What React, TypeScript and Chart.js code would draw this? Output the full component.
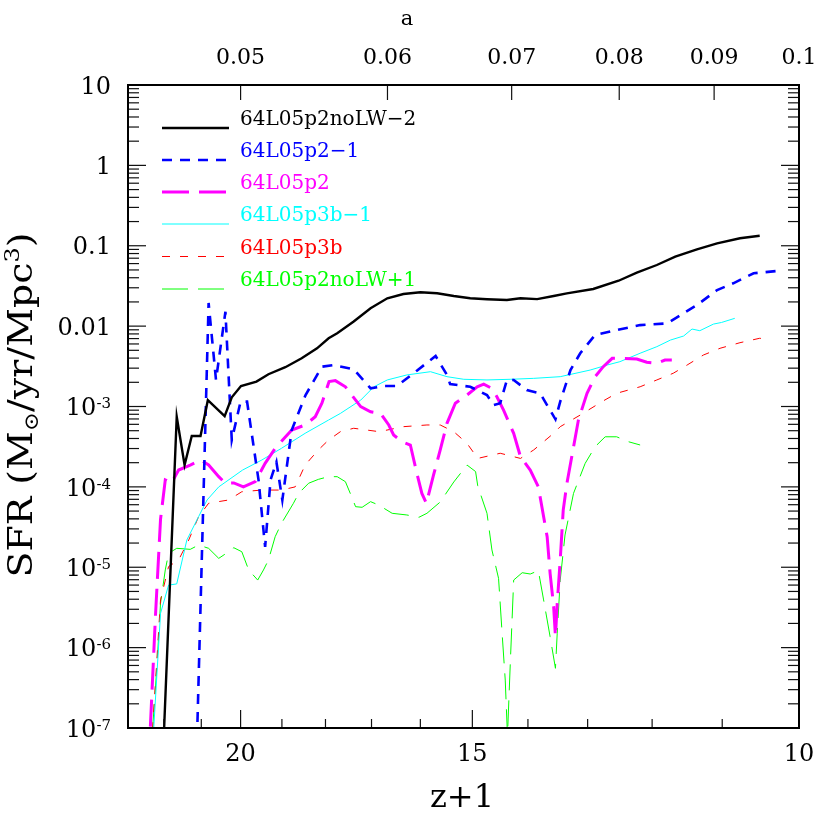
import React, { useEffect, useRef } from "react";
import { Chart, registerables } from "chart.js";

Chart.register(...registerables);

// ---------- data (x = z+1, y = SFR in Msun/yr/Mpc^3) ----------
const blackZ = [22.01, 21.65, 21.44, 21.25, 21.02, 20.83, 20.40, 20.22, 19.99, 19.61, 19.32, 18.92, 18.54, 18.19, 17.93, 17.74, 17.38, 17.02, 16.67, 16.34, 16.00, 15.67, 15.35, 15.04, 14.73, 14.37, 14.13, 13.84, 13.56, 13.34, 12.91, 12.51, 12.23, 11.93, 11.66, 11.35, 11.07, 10.76, 10.50];
const blackSFR = [6.2e-8, 7.46e-4, 1.87e-4, 4.3e-4, 4.3e-4, 1.2e-3, 7.6e-4, 1.3e-3, 1.8e-3, 2.04e-3, 2.52e-3, 3.08e-3, 3.98e-3, 5.3e-3, 7.06e-3, 8.15e-3, 1.14e-2, 1.67e-2, 2.22e-2, 2.51e-2, 2.64e-2, 2.56e-2, 2.37e-2, 2.22e-2, 2.16e-2, 2.11e-2, 2.22e-2, 2.17e-2, 2.37e-2, 2.56e-2, 2.90e-2, 3.67e-2, 4.62e-2, 5.76e-2, 7.31e-2, 9.04e-2, 0.107, 0.124, 0.133];

const blueZ = [21.10, 20.81, 20.62, 20.38, 20.22, 20.00, 19.84, 19.56, 19.40, 19.27, 19.13, 18.99, 18.77, 18.45, 18.08, 17.82, 17.38, 17.02, 16.74, 16.47, 16.07, 15.70, 15.48, 15.42, 15.04, 14.73, 14.61, 14.49, 14.37, 14.25, 14.02, 13.79, 13.53, 13.45, 13.28, 13.12, 12.88, 12.54, 12.18, 11.78, 11.54, 11.35, 11.07, 10.85, 10.58, 10.28];
const blueSFR = [1.19e-7, 1.94e-2, 2.14e-3, 1.51e-2, 3.83e-4, 1.15e-3, 1.15e-3, 1.22e-4, 1.79e-5, 1.22e-4, 2.04e-4, 6.87e-5, 5.1e-4, 1.39e-3, 3.13e-3, 3.28e-3, 2.9e-3, 1.68e-3, 1.8e-3, 1.8e-3, 2.79e-3, 4.25e-3, 2.47e-3, 1.9e-3, 1.76e-3, 1.39e-3, 1.04e-3, 1.1e-3, 2.14e-3, 2.14e-3, 1.6e-3, 1.46e-3, 6.93e-4, 1.15e-3, 2.84e-3, 4.6e-3, 7.76e-3, 8.95e-3, 1.03e-2, 1.08e-2, 1.45e-2, 1.83e-2, 2.81e-2, 3.41e-2, 4.54e-2, 4.85e-2];

const magentaZ = [22.37, 22.23, 22.09, 21.96, 21.79, 21.60, 21.29, 21.02, 20.81, 20.55, 20.38, 20.17, 19.93, 19.64, 19.40, 19.16, 18.77, 18.46, 18.23, 18.08, 17.92, 17.78, 17.56, 17.23, 17.02, 16.81, 16.64, 16.54, 16.37, 16.20, 16.07, 15.97, 15.88, 15.74, 15.61, 15.48, 15.32, 15.10, 14.91, 14.79, 14.64, 14.55, 14.43, 14.25, 14.13, 13.96, 13.82, 13.67, 13.62, 13.56, 13.53, 13.50, 13.45, 13.40, 13.34, 13.15, 13.01, 12.88, 12.75, 12.61, 12.49, 12.23, 12.08, 11.93, 11.81, 11.71];
const magentaSFR = [1.04e-7, 2.43e-6, 3.95e-5, 1.22e-4, 1.12e-4, 1.62e-4, 1.87e-4, 2.16e-4, 1.87e-4, 1.34e-4, 1.11e-4, 1.12e-4, 1.0e-4, 1.16e-4, 1.96e-4, 3.02e-4, 5.1e-4, 5.89e-4, 7.46e-4, 1.1e-3, 2.04e-3, 2.1e-3, 1.76e-3, 9.95e-4, 8.6e-4, 8.2e-4, 5.89e-4, 4.42e-4, 3.65e-4, 3.32e-4, 1.48e-4, 8.3e-5, 6.25e-5, 1.41e-4, 2.88e-4, 6.18e-4, 1.1e-3, 1.39e-3, 1.76e-3, 1.9e-3, 1.68e-3, 1.32e-3, 9.0e-4, 4.64e-4, 2.37e-4, 1.62e-4, 1.0e-4, 2.4e-5, 8.4e-6, 3.23e-6, 1.37e-6, 3.56e-6, 1.23e-5, 5.15e-5, 1.09e-4, 6.79e-4, 1.46e-3, 2.35e-3, 3.13e-3, 3.98e-3, 3.98e-3, 3.9e-3, 3.55e-3, 3.45e-3, 3.79e-3, 3.79e-3];

const cyanZ = [22.28, 22.09, 21.87, 21.65, 21.38, 21.07, 20.85, 20.55, 19.95, 19.48, 19.01, 18.46, 17.93, 17.67, 17.23, 16.95, 16.67, 16.27, 15.80, 15.48, 15.16, 14.73, 14.31, 13.90, 13.45, 12.96, 12.69, 12.49, 12.18, 11.93, 11.73, 11.54, 11.42, 11.31, 11.12, 11.01, 10.83];
const cyanSFR = [9.4e-8, 2.67e-6, 6.0e-6, 6.2e-6, 2.18e-5, 4.26e-5, 6.87e-5, 1.0e-4, 1.62e-4, 2.16e-4, 3.02e-4, 4.64e-4, 6.79e-4, 8.2e-4, 1.2e-3, 1.76e-3, 2.14e-3, 2.47e-3, 2.71e-3, 2.35e-3, 2.18e-3, 2.14e-3, 2.18e-3, 2.24e-3, 2.35e-3, 2.84e-3, 3.28e-3, 3.61e-3, 4.6e-3, 5.55e-3, 6.71e-3, 7.53e-3, 9.2e-3, 8.77e-3, 1.06e-2, 1.11e-2, 1.25e-2];

const redZ = [22.31, 22.09, 21.87, 21.60, 21.33, 21.07, 20.81, 20.30, 19.97, 19.48, 19.01, 18.69, 18.46, 18.16, 17.93, 17.67, 17.38, 16.84, 16.34, 15.87, 15.61, 15.35, 15.10, 14.90, 14.49, 14.13, 13.90, 13.56, 13.45, 13.12, 12.77, 12.54, 12.18, 11.93, 11.69, 11.49, 11.26, 11.03, 10.76, 10.50, 10.41];
const redSFR = [9.4e-8, 3.92e-6, 1.02e-5, 1.23e-5, 2.18e-5, 4.26e-5, 6.25e-5, 6.87e-5, 8.7e-5, 9.13e-5, 9.13e-5, 1.0e-4, 1.87e-4, 2.88e-4, 3.83e-4, 4.86e-4, 5.36e-4, 4.86e-4, 5.61e-4, 5.89e-4, 5.89e-4, 4.86e-4, 3.48e-4, 2.26e-4, 2.62e-4, 2.26e-4, 2.88e-4, 4.64e-4, 5.61e-4, 7.83e-4, 1.15e-3, 1.46e-3, 1.76e-3, 2.14e-3, 2.59e-3, 3.28e-3, 4.37e-3, 5.3e-3, 6.22e-3, 7.06e-3, 6.9e-3];

const greenZ = [22.31, 22.19, 22.09, 21.96, 21.87, 21.65, 21.29, 21.07, 20.81, 20.55, 20.30, 20.17, 19.97, 19.80, 19.58, 19.44, 19.32, 19.16, 19.01, 18.73, 18.61, 18.38, 18.16, 17.93, 17.74, 17.56, 17.41, 17.34, 17.20, 17.02, 16.85, 16.57, 16.27, 16.03, 15.87, 15.61, 15.35, 15.10, 14.94, 14.90, 14.73, 14.64, 14.52, 14.46, 14.40, 14.36, 14.31, 14.25, 14.10, 13.96, 13.82, 13.73, 13.62, 13.53, 13.50, 13.45, 13.37, 13.23, 13.04, 12.88, 12.72, 12.54, 12.36, 12.18];
const greenSFR = [9.5e-8, 5.8e-7, 3.56e-6, 9.25e-6, 1.49e-5, 1.72e-5, 1.67e-5, 1.89e-5, 1.72e-5, 1.29e-5, 1.56e-5, 1.75e-5, 1.56e-5, 9.25e-6, 6.93e-6, 9.25e-6, 1.23e-5, 2.4e-5, 3.52e-5, 6.25e-5, 8.3e-5, 1.11e-4, 1.24e-4, 1.34e-4, 1.34e-4, 1.16e-4, 7.2e-5, 5.67e-5, 5.57e-5, 6.55e-5, 5.94e-5, 4.69e-5, 4.47e-5, 4.18e-5, 4.69e-5, 6.49e-5, 1.15e-4, 1.87e-4, 1.55e-4, 1.03e-4, 4.69e-5, 1.64e-5, 7.28e-6, 1.66e-6, 3.95e-7, 8e-8, 6.38e-7, 6.93e-6, 8.55e-6, 8.24e-6, 9.06e-6, 3.92e-6, 1.37e-6, 5.53e-7, 1.51e-6, 6.93e-6, 2.52e-5, 8.3e-5, 1.96e-4, 3.16e-4, 4.2e-4, 4.2e-4, 3.65e-4, 3.32e-4];

const seriesLabels = ["64L05p2noLW\u22122", "64L05p2\u22121", "64L05p2", "64L05p3b\u22121", "64L05p3b", "64L05p2noLW+1"];

// ---------- axis ticks ----------
const xMajorTicks = [20, 15, 10];
const xMajorLabels = ["20", "15", "10"];
const xMinorTicks = [22, 21, 19, 18, 17, 16, 14, 13, 12, 11];
const topTicks = [0.05, 0.06, 0.07, 0.08, 0.09, 0.1];
const topTickLabels = ["0.05", "0.06", "0.07", "0.08", "0.09", "0.1"];
const yDecadeExps = [-7, -6, -5, -4, -3, -2, -1, 0, 1];

const SERIF = '"DejaVu Serif", serif';

const pts = (xs: number[], ys: number[]) => xs.map((x, i) => ({ x, y: ys[i] }));

type Run = { t: string; size: number; dy?: number };

function runsWidth(ctx: CanvasRenderingContext2D, runs: Run[]) {
  let w = 0;
  for (const r of runs) {
    ctx.font = `${r.size}px ${SERIF}`;
    w += ctx.measureText(r.t).width;
  }
  return w;
}
function drawRuns(ctx: CanvasRenderingContext2D, runs: Run[], x: number, y: number) {
  let cx = x;
  ctx.textBaseline = "alphabetic";
  ctx.textAlign = "left";
  for (const r of runs) {
    ctx.font = `${r.size}px ${SERIF}`;
    ctx.fillText(r.t, cx, y + (r.dy || 0));
    cx += ctx.measureText(r.t).width;
  }
}

const decorPlugin = {
  id: "decor",
  afterDatasetsDraw(chart: any) {
    const ctx: CanvasRenderingContext2D = chart.ctx;
    const ca = chart.chartArea;
    const xs = chart.scales.x;
    const ys = chart.scales.y;
    ctx.save();
    ctx.strokeStyle = "#111";
    ctx.lineWidth = 1.2;
    const seg = (x1: number, y1: number, x2: number, y2: number) => {
      ctx.beginPath();
      ctx.moveTo(x1, y1);
      ctx.lineTo(x2, y2);
      ctx.stroke();
    };
    // y ticks (left and right)
    for (const e of yDecadeExps) {
      for (let m = 1; m <= 9; m++) {
        const v = m * Math.pow(10, e);
        if (v > 10.0001) break;
        const py = ys.getPixelForValue(v);
        const L = m === 1 ? 18 : 11;
        seg(ca.left, py, ca.left + L, py);
        seg(ca.right, py, ca.right - L, py);
      }
    }
    // bottom ticks
    for (const t of xMajorTicks) {
      const px = xs.getPixelForValue(t);
      seg(px, ca.bottom, px, ca.bottom - 18);
    }
    for (const t of xMinorTicks) {
      const px = xs.getPixelForValue(t);
      seg(px, ca.bottom, px, ca.bottom - 9);
    }
    // top ticks (scale factor a = 1/(z+1))
    for (const a of topTicks) {
      const px = xs.getPixelForValue(1 / a);
      seg(px, ca.top, px, ca.top + 15);
    }
    // frame
    ctx.strokeStyle = "#000";
    ctx.lineWidth = 2;
    ctx.strokeRect(ca.left, ca.top, ca.right - ca.left, ca.bottom - ca.top);

    ctx.fillStyle = "#000";
    // y tick labels
    for (const e of yDecadeExps) {
      const py = ys.getPixelForValue(Math.pow(10, e));
      const base = py + 8.7;
      let runs: Run[];
      if (e >= -2) {
        const s = e === 1 ? "10" : e === 0 ? "1" : e === -1 ? "0.1" : "0.01";
        runs = [{ t: s, size: 24 }];
      } else {
        runs = [
          { t: "10", size: 24 },
          { t: "-" + String(-e), size: 15, dy: -7 },
        ];
      }
      const w = runsWidth(ctx, runs);
      drawRuns(ctx, runs, 111 - w, base);
    }
    // bottom tick labels
    ctx.font = `24px ${SERIF}`;
    ctx.textAlign = "center";
    ctx.textBaseline = "alphabetic";
    xMajorTicks.forEach((t, i) => {
      ctx.fillText(xMajorLabels[i], xs.getPixelForValue(t), 761);
    });
    // top tick labels
    ctx.font = `22px ${SERIF}`;
    topTicks.forEach((a, i) => {
      ctx.fillText(topTickLabels[i], xs.getPixelForValue(1 / a), 64);
    });
    // top title
    ctx.font = `21px ${SERIF}`;
    ctx.fillText("a", 407, 25);
    // bottom title
    ctx.font = `32px ${SERIF}`;
    ctx.fillText("z+1", 462, 807);

    // left title (rotated)
    const yRuns: Run[] = [
      { t: "SFR (M", size: 33 },
      { t: "\u2299", size: 20, dy: 6 },
      { t: "/yr/Mpc", size: 33 },
      { t: "3", size: 21, dy: -13 },
      { t: ")", size: 33 },
    ];
    const natural = runsWidth(ctx, yRuns);
    const target = 345;
    ctx.save();
    ctx.translate(32, 405);
    ctx.rotate(-Math.PI / 2);
    ctx.scale(target / natural, 1);
    drawRuns(ctx, yRuns, -natural / 2, 0);
    ctx.restore();

    // legend
    const rowY = [118, 150, 182, 214, 246.5, 279];
    chart.data.datasets.forEach((ds: any, i: number) => {
      const cy = rowY[i];
      ctx.save();
      ctx.strokeStyle = ds.borderColor;
      ctx.lineWidth = ds.borderWidth;
      ctx.setLineDash(ds.borderDash || []);
      ctx.beginPath();
      ctx.moveTo(162, cy + 10);
      ctx.lineTo(229, cy + 10);
      ctx.stroke();
      ctx.restore();
      ctx.fillStyle = ds.borderColor;
      ctx.font = `20px ${SERIF}`;
      ctx.textAlign = "left";
      ctx.textBaseline = "alphabetic";
      ctx.fillText(ds.label, 240, cy + 7.3);
    });
    ctx.restore();
  },
};

export default function App() {
  const canvasRef = useRef<HTMLCanvasElement | null>(null);

  useEffect(() => {
    if (!canvasRef.current) return;
    const chart = new Chart(canvasRef.current, {
      type: "line",
      data: {
        datasets: [
          { label: seriesLabels[0], data: pts(blackZ, blackSFR), borderColor: "#000000", borderWidth: 2.4, borderDash: [] },
          { label: seriesLabels[1], data: pts(blueZ, blueSFR), borderColor: "#0000ff", borderWidth: 2.6, borderDash: [10, 8] },
          { label: seriesLabels[2], data: pts(magentaZ, magentaSFR), borderColor: "#ff00ff", borderWidth: 3, borderDash: [27, 10] },
          { label: seriesLabels[3], data: pts(cyanZ, cyanSFR), borderColor: "#00ffff", borderWidth: 1, borderDash: [] },
          { label: seriesLabels[4], data: pts(redZ, redSFR), borderColor: "#ff0000", borderWidth: 1, borderDash: [8, 10] },
          { label: seriesLabels[5], data: pts(greenZ, greenSFR), borderColor: "#00ff00", borderWidth: 1, borderDash: [26, 10] },
        ] as any,
      },
      options: {
        responsive: false,
        animation: false,
        devicePixelRatio: 1,
        parsing: true,
        layout: { padding: { left: 128, right: 31, top: 85, bottom: 102 } },
        elements: { point: { radius: 0 }, line: { tension: 0, fill: false } },
        plugins: { legend: { display: false }, tooltip: { enabled: false } },
        scales: {
          x: { type: "logarithmic", min: 10, max: 23, reverse: true, display: false },
          y: { type: "logarithmic", min: 1e-7, max: 10, display: false },
        },
      } as any,
      plugins: [decorPlugin],
    });
    return () => chart.destroy();
  }, []);

  return (
    <div style={{ position: "absolute", left: 0, top: 0, width: 830, height: 830, background: "#fff" }}>
      <canvas ref={canvasRef} width={830} height={830} style={{ width: 830, height: 830 }} />
    </div>
  );
}
